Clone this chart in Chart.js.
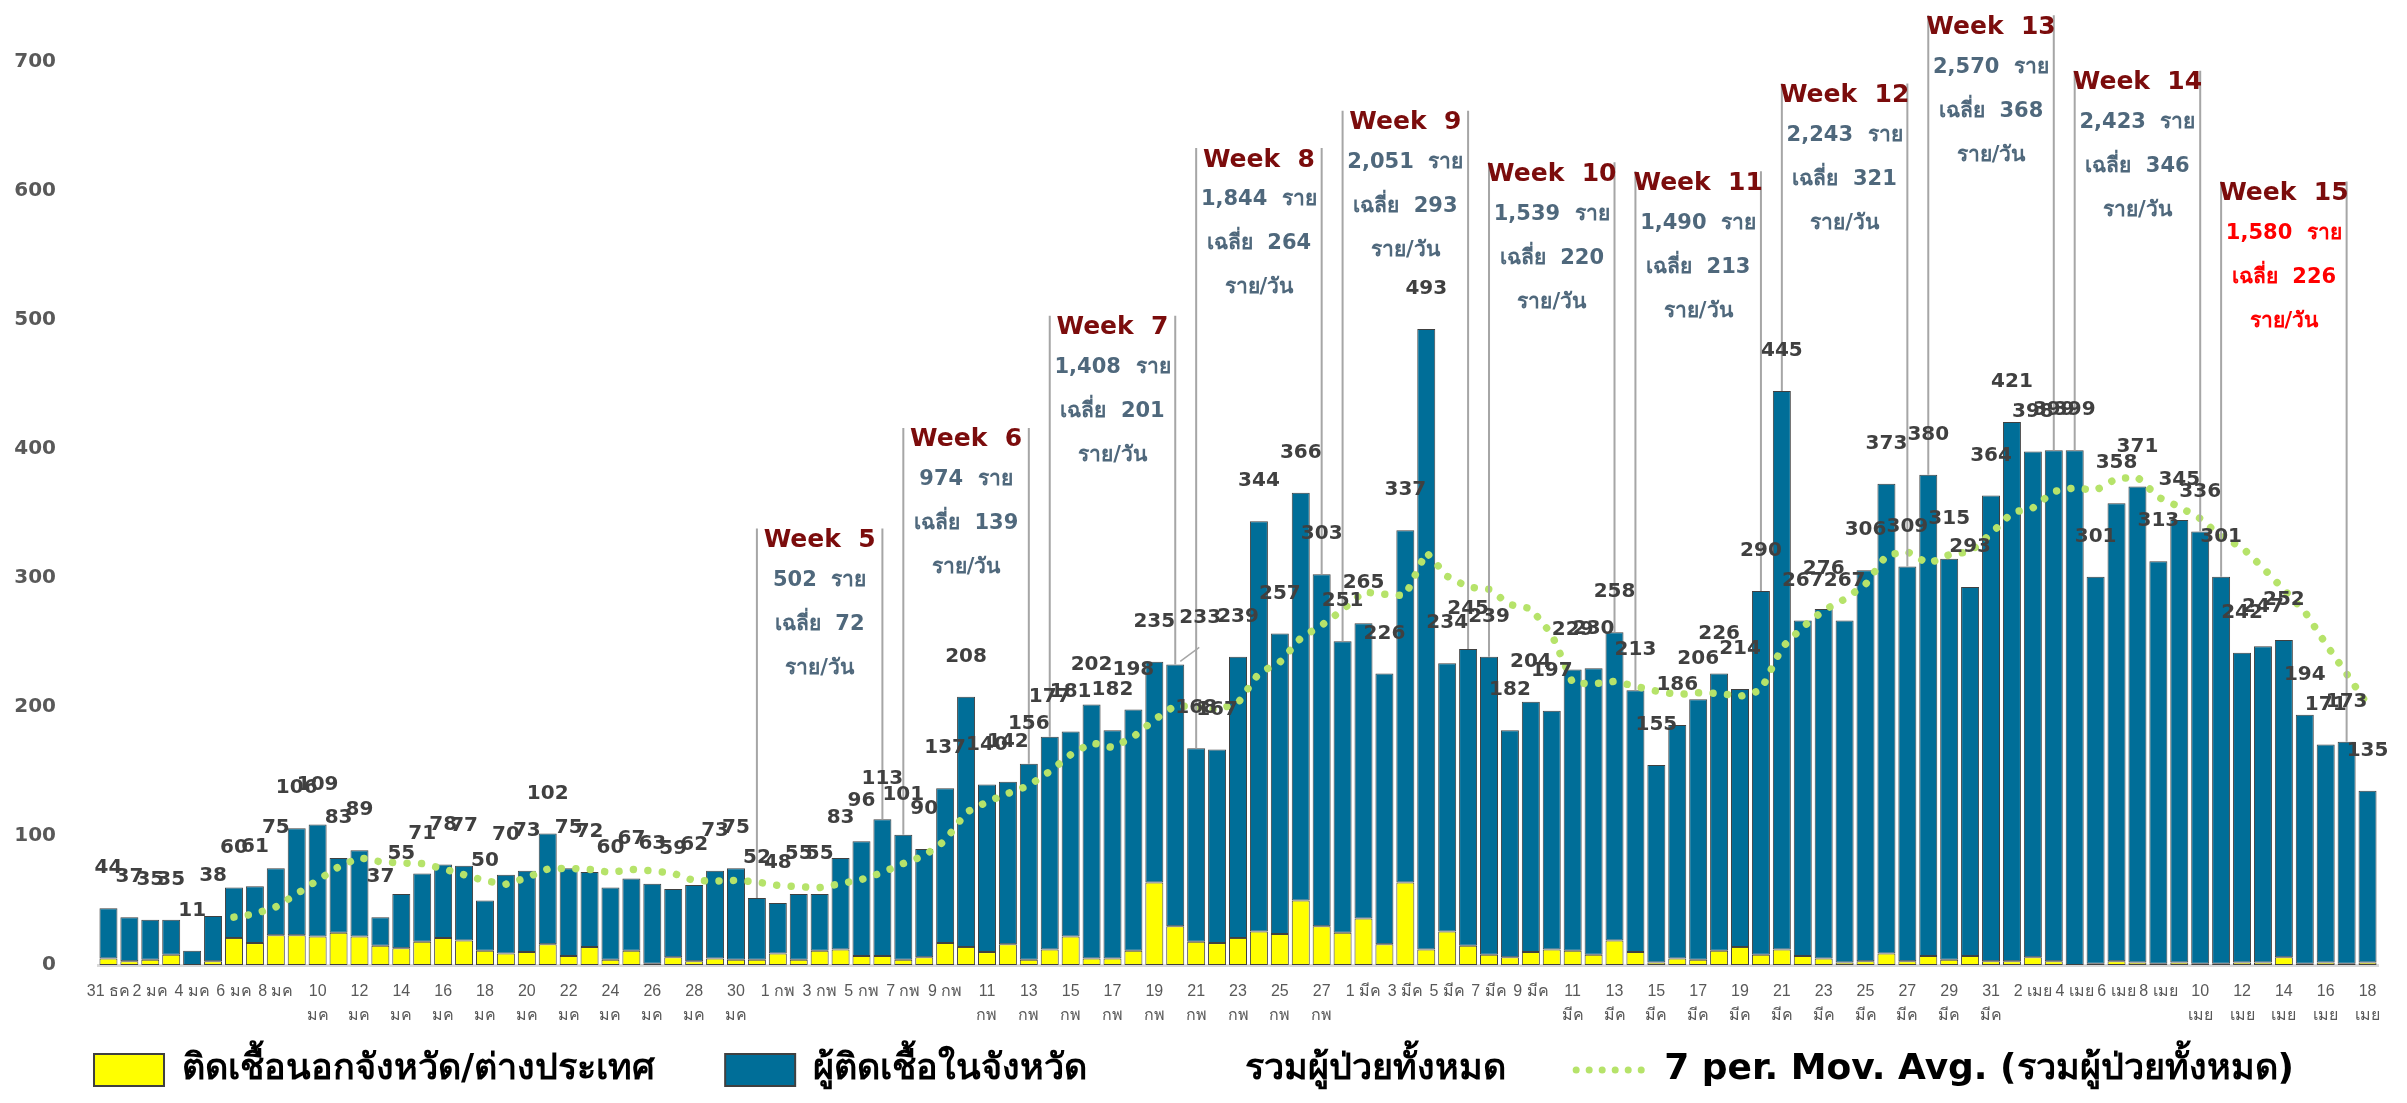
<!DOCTYPE html>
<html lang="th">
<head>
  <meta charset="UTF-8">
  <title>ผู้ติดเชื้อรายวัน</title>
  <script src="https://cdn.jsdelivr.net/npm/chart.js"></script>
  <style>
    html, body {
      margin: 0;
      padding: 0;
      background: #ffffff;
      overflow: hidden;
    }
  </style>
</head>
<body>
<canvas id="cases" width="2407" height="1103"></canvas>

<script>
  // day labels, 31 Dec -> 18 Apr
  const months = [['ธค', 31, 31], ['มค', 1, 31], ['กพ', 1, 28], ['มีค', 1, 31], ['เมย', 1, 18]];
  const days = [];
  months.forEach(([m, from, to]) => {
    for (let d = from; d <= to; d++) days.push([d, m]);
  });

  // ติดเชื้อนอกจังหวัด/ต่างประเทศ (yellow)
  const outsideCases = [
    5, 3, 4, 8, 0, 3, 21, 17, 23, 23,
    22, 25, 22, 15, 13, 18, 21, 19, 11, 9,
    10, 16, 7, 14, 4, 11, 1, 6, 3, 5,
    4, 4, 9, 4, 11, 12, 7, 7, 4, 6,
    17, 14, 10, 16, 4, 12, 22, 5, 5, 11,
    64, 30, 18, 17, 21, 26, 24, 50, 30, 25,
    36, 16, 64, 12, 26, 15, 8, 6, 10, 12,
    11, 8, 19, 10, 2, 5, 4, 11, 14, 8,
    12, 7, 5, 2, 3, 9, 3, 7, 4, 7,
    3, 3, 6, 3, 0, 1, 3, 2, 1, 2,
    1, 1, 2, 2, 6, 1, 2, 1, 2
  ];

  // ผู้ติดเชื้อในจังหวัด (blue)
  const localCases = [
    39, 34, 31, 27, 11, 35, 39, 44, 52, 83,
    87, 58, 67, 22, 42, 53, 57, 58, 39, 61,
    63, 86, 68, 58, 56, 56, 62, 53, 59, 68,
    71, 48, 39, 51, 44, 71, 89, 106, 97, 84,
    120, 194, 130, 126, 152, 165, 159, 197, 177, 187,
    171, 203, 150, 150, 218, 318, 233, 316, 273, 226,
    229, 210, 273, 481, 208, 230, 231, 176, 194, 185,
    218, 222, 239, 203, 153, 181, 202, 215, 200, 282,
    433, 260, 271, 265, 303, 364, 306, 373, 311, 286,
    361, 418, 392, 396, 399, 300, 355, 369, 312, 343,
    335, 300, 240, 245, 246, 193, 169, 172, 133
  ];

  // รวมผู้ป่วยทั้งหมด
  const totals = [
    44, 37, 35, 35, 11, 38, 60, 61, 75, 106,
    109, 83, 89, 37, 55, 71, 78, 77, 50, 70,
    73, 102, 75, 72, 60, 67, 63, 59, 62, 73,
    75, 52, 48, 55, 55, 83, 96, 113, 101, 90,
    137, 208, 140, 142, 156, 177, 181, 202, 182, 198,
    235, 233, 168, 167, 239, 344, 257, 366, 303, 251,
    265, 226, 337, 493, 234, 245, 239, 182, 204, 197,
    229, 230, 258, 213, 155, 186, 206, 226, 214, 290,
    445, 267, 276, 267, 306, 373, 309, 380, 315, 293,
    364, 421, 398, 399, 399, 301, 358, 371, 313, 345,
    336, 301, 242, 247, 252, 194, 171, 173, 135
  ];

  // 7 per. Mov. Avg.
  const movAvg = [
    null, null, null, null, null, null,
    37.1, 39.6, 45.0, 55.1, 65.7, 76.0, 83.3, 80.0, 79.1, 78.6,
    74.6, 70.0, 65.3, 62.6, 67.7, 74.4, 75.0, 74.1, 71.7, 74.1,
    73.1, 71.1, 65.4, 65.1, 65.6, 64.4, 61.7, 60.6, 60.0, 63.0,
    66.3, 71.7, 78.7, 84.7, 96.4, 118.3, 126.4, 133.0, 139.1, 150.0,
    163.0, 172.3, 168.6, 176.9, 190.1, 201.1, 199.9, 197.9, 203.1, 226.3,
    234.7, 253.4, 263.4, 275.3, 289.3, 287.4, 286.4, 320.1, 301.3, 293.0,
    291.3, 279.4, 276.3, 256.3, 218.6, 218.0, 219.9, 216.1, 212.3, 209.7,
    211.0, 210.6, 208.3, 212.9, 246.0, 262.0, 274.9, 283.6, 295.0, 317.7,
    320.4, 311.1, 318.0, 320.4, 334.3, 350.7, 354.3, 367.1, 369.9, 367.9,
    377.1, 378.1, 362.7, 355.1, 346.1, 332.1, 323.7, 307.9, 290.9, 273.9,
    249.0, 225.7, 202.0
  ];

  // weekly boxes
  const weekNo = [5, 6, 7, 8, 9, 10, 11, 12, 13, 14, 15];
  const weekTotal = ['502', '974', '1,408', '1,844', '2,051', '1,539', '1,490', '2,243', '2,570', '2,423', '1,580'];
  const weekAvg = [72, 139, 201, 264, 293, 220, 213, 321, 368, 346, 226];
  const weekFirstDay = [31, 38, 45, 52, 59, 66, 73, 80, 87, 94, 101];

  // where the "Week n" title sits, in axis units
  const weekTitleAt = [329, 407, 494, 624, 653, 613, 606, 674, 727, 684, 598];

  const FONT = '"DejaVu Sans", sans-serif';

  const totalLabels = {
    id: 'totalLabels',
    afterLayout(chart) {
      // x tick labels are clipped to the axis box, which is kept thin so the legend sits low
      chart.scales.x.bottom = chart.height;
    },
    afterDatasetsDraw(chart) {
      const {ctx, scales: {x, y}} = chart;
      ctx.save();

      // week boxes
      weekNo.forEach((n, i) => {
        const a = weekFirstDay[i], b = a + 6;
        const xa = x.getPixelForValue(a), xb = x.getPixelForValue(b);
        const ty = y.getPixelForValue(weekTitleAt[i]);
        ctx.strokeStyle = '#a6a6a6';
        ctx.lineWidth = 2;
        ctx.beginPath();
        ctx.moveTo(xa, ty - 12);
        ctx.lineTo(xa, y.getPixelForValue(totals[a]));
        ctx.moveTo(xb, ty - 12);
        ctx.lineTo(xb, y.getPixelForValue(totals[b]));
        ctx.stroke();

        const cx = (xa + xb) / 2;
        ctx.textAlign = 'center';
        ctx.textBaseline = 'middle';
        ctx.fillStyle = '#7b0c0c';
        ctx.font = 'bold 25px ' + FONT;
        ctx.fillText('Week  ' + n, cx, ty);
        ctx.fillStyle = n === 15 ? '#ff0000' : '#4f687c';
        ctx.font = 'bold 21px ' + FONT;
        ctx.fillText(weekTotal[i] + '  ราย', cx, ty + 40);
        ctx.fillText('เฉลี่ย  ' + weekAvg[i], cx, ty + 84);
        ctx.fillText('ราย/วัน', cx, ty + 128);
      });

      // totals above bars
      ctx.font = 'bold 20px ' + FONT;
      ctx.fillStyle = '#404040';
      ctx.textAlign = 'center';
      ctx.textBaseline = 'middle';
      totals.forEach((v, i) => {
        const px = x.getPixelForValue(i);
        const py = y.getPixelForValue(v);
        if (i === 51) {
          // label moved aside in the original, with a leader line
          ctx.strokeStyle = '#a6a6a6';
          ctx.lineWidth = 1.5;
          ctx.beginPath();
          ctx.moveTo(px + 5, py - 3);
          ctx.lineTo(px + 24, py - 17);
          ctx.stroke();
          ctx.fillText(v, px + 25, py - 47);
        } else {
          ctx.fillText(v, px, py - 40);
        }
      });
      ctx.restore();
    }
  };

  new Chart(document.getElementById('cases'), {
    data: {
      labels: days.map(d => d[0] + ' ' + d[1]),
      datasets: [
        {
          type: 'bar',
          label: 'ติดเชื้อนอกจังหวัด/ต่างประเทศ',
          data: outsideCases,
          backgroundColor: '#ffff00',
          borderColor: '#404040',
          borderWidth: 1,
          borderSkipped: false,
          stack: 'cases',
          order: 2,
          barPercentage: 0.86,
          categoryPercentage: 1
        },
        {
          type: 'bar',
          label: 'ผู้ติดเชื้อในจังหวัด',
          data: localCases,
          backgroundColor: '#006e98',
          borderColor: '#404040',
          borderWidth: 1,
          borderSkipped: false,
          stack: 'cases',
          order: 2,
          barPercentage: 0.86,
          categoryPercentage: 1
        },
        {
          type: 'line',
          label: 'รวมผู้ป่วยทั้งหมด',
          data: totals,
          showLine: false,
          pointRadius: 0,
          stack: 'total',
          order: 1
        },
        {
          type: 'line',
          label: '7 per. Mov. Avg. (รวมผู้ป่วยทั้งหมด)',
          data: movAvg,
          borderColor: '#b6e36a',
          borderWidth: 7.5,
          borderDash: [0.01, 14.5],
          borderCapStyle: 'round',
          pointRadius: 0,
          fill: false,
          stack: 'avg',
          order: 1
        }
      ]
    },
    options: {
      responsive: false,
      animation: false,
      devicePixelRatio: 1,
      layout: {
        padding: {top: 62, left: 10, right: 29, bottom: 5}
      },
      scales: {
        x: {
          stacked: true,
          grid: {display: false, drawTicks: false},
          border: {display: true, color: '#d9d9d9', width: 3},
          ticks: {
            autoSkip: false,
            maxRotation: 0,
            minRotation: 0,
            padding: 15,
            color: '#595959',
            font: {family: '"Liberation Sans", sans-serif', size: 16, lineHeight: 1.5},
            callback: function(value, index) {
              if (index % 2) return '';
              const [d, m] = days[index];
              return (d < 10 || index === 0) ? d + ' ' + m : ['' + d, m];
            }
          },
          afterFit: s => { s.height = 17; }
        },
        y: {
          stacked: true,
          min: 0,
          max: 700,
          grid: {display: false, drawTicks: false},
          border: {display: false},
          ticks: {
            stepSize: 100,
            padding: 42,
            color: '#595959',
            font: {family: FONT, size: 20, weight: 'bold'}
          },
          afterFit: s => { s.width = 88; }
        }
      },
      plugins: {
        tooltip: {enabled: false},
        legend: {
          position: 'bottom',
          labels: {
            usePointStyle: true,
            pointStyleWidth: 70,
            boxHeight: 32,
            padding: 70,
            color: '#595959',
            font: {family: FONT, size: 36, weight: 'bold'},
            generateLabels(chart) {
              const ds = chart.data.datasets;
              return [
                {text: ds[0].label, fillStyle: ds[0].backgroundColor, strokeStyle: '#404040', lineWidth: 2, pointStyle: 'rect', datasetIndex: 0},
                {text: ds[1].label, fillStyle: ds[1].backgroundColor, strokeStyle: '#404040', lineWidth: 2, pointStyle: 'rect', datasetIndex: 1},
                {text: ds[2].label, fillStyle: 'rgba(0,0,0,0)', strokeStyle: 'rgba(0,0,0,0)', lineWidth: 0, pointStyle: 'rect', datasetIndex: 2},
                {text: ds[3].label, fillStyle: 'rgba(0,0,0,0)', strokeStyle: ds[3].borderColor, lineWidth: 7,
                 lineCap: 'round', lineDash: [0.01, 13], pointStyle: 'line', datasetIndex: 3}
              ];
            }
          }
        }
      }
    },
    plugins: [totalLabels]
  });
</script>
</body>
</html>
